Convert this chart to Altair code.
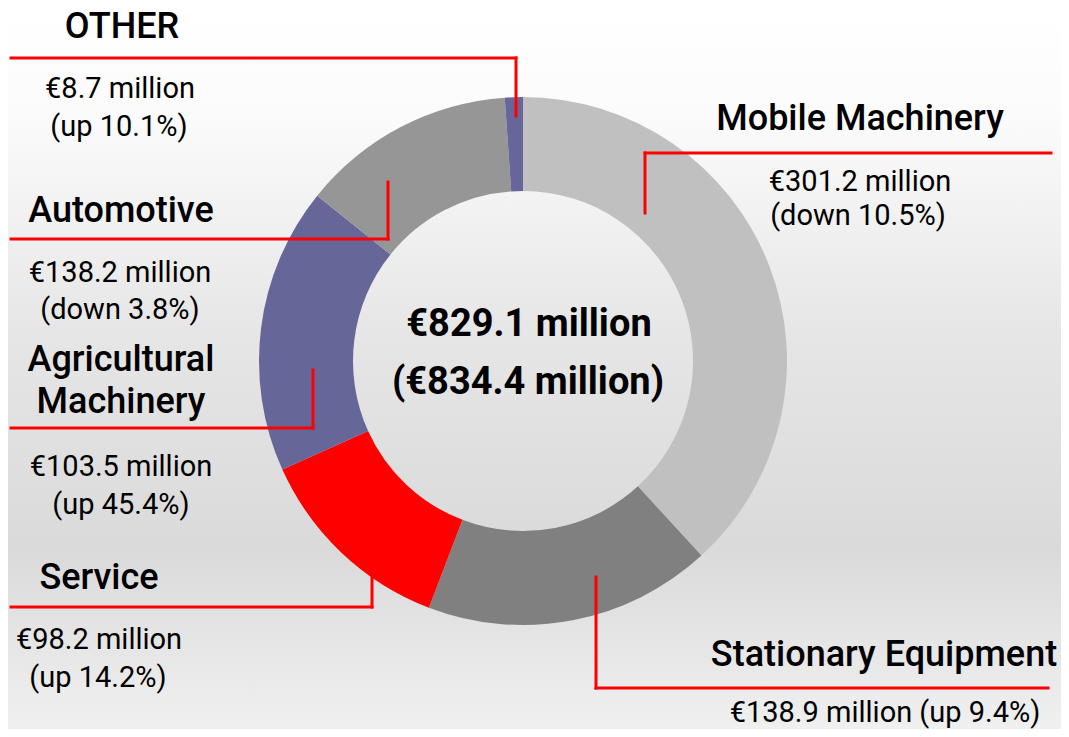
import altair as alt
import pandas as pd

# ---- data ----
segments = ["Mobile Machinery", "Stationary Equipment", "Service",
            "Automotive", "Agricultural Machinery", "OTHER"]
values = [301.2, 138.9, 98.2, 138.2, 103.5, 8.7]
seg_colors = ["#c0c0c0", "#808080", "#ff0000", "#666699", "#969696", "#66669a"]

headings = ["OTHER", "Mobile Machinery", "Automotive", "Agricultural", "Machinery",
            "Service", "Stationary Equipment"]
value_lines = ["€8.7 million", "(up 10.1%)", "€301.2 million", "(down 10.5%)",
               "€138.2 million", "(down 3.8%)", "€103.5 million", "(up 45.4%)",
               "€98.2 million", "(up 14.2%)", "€138.9 million (up 9.4%)"]
center_lines = ["€829.1 million", "(€834.4 million)"]

# ---- layout (reference pixel coordinates) ----
heading_pos = [(122, 27), (860, 119), (121, 211), (121, 360), (121, 402), (99, 578), (884, 655)]
value_pos = [(120, 89), (119, 127), (860, 182), (858, 216), (120, 273), (120, 310),
             (121, 467), (121, 505), (99, 640), (98, 678), (885, 713)]
center_pos = [(529, 325), (528, 383)]
# leader lines: (x, y, x2, y2)
leaders = [
    (11, 58, 516, 58), (516, 58, 516, 116),
    (11, 239, 388, 239), (388, 182, 388, 239),
    (645, 153, 1051, 153), (645, 153, 645, 213),
    (11, 428, 313, 428), (313, 370, 313, 428),
    (11, 607, 372, 607), (372, 577, 372, 607),
    (596, 577, 596, 688), (596, 688, 1048, 688),
]
CX, CY, R_OUT, R_IN = 523, 361, 264, 170

W, H = 1053, 721
xs = alt.Scale(domain=[8, 8 + W])
ys = alt.Scale(domain=[8, 8 + H], reverse=True)
FONT = "Roboto"

def X(v):
    return alt.X(v, type="quantitative", scale=xs, axis=None) if isinstance(v, str) else alt.XDatum(v, scale=xs, axis=None)

def Y(v):
    return alt.Y(v, type="quantitative", scale=ys, axis=None) if isinstance(v, str) else alt.YDatum(v, scale=ys, axis=None)

gradient = alt.LinearGradient(
    gradient="linear", x1=0, y1=0, x2=0, y2=1,
    stops=[alt.GradientStop(color="#ffffff", offset=0),
           alt.GradientStop(color="#fbfbfb", offset=0.15),
           alt.GradientStop(color="#e6e6e6", offset=0.45),
           alt.GradientStop(color="#dadada", offset=0.75),
           alt.GradientStop(color="#f0f0f0", offset=1)])

bg = alt.Chart(alt.Data(values=[{}])).mark_rect(color=gradient).encode(
    x=X(8), x2=alt.X2Datum(8 + W), y=Y(8), y2=alt.Y2Datum(8 + H))

seg_df = pd.DataFrame({"segment": segments, "value": values, "idx": range(len(segments))})
donut = alt.Chart(seg_df).mark_arc(innerRadius=R_IN, outerRadius=R_OUT).encode(
    theta=alt.Theta("value:Q", stack=True),
    order=alt.Order("idx:Q"),
    color=alt.Color("segment:N", scale=alt.Scale(domain=segments, range=seg_colors), legend=None),
    x=X(CX), y=Y(CY))

lines_df = pd.DataFrame(leaders, columns=["x", "y", "x2", "y2"])
lines = alt.Chart(lines_df).mark_rule(color="#ff0000", strokeWidth=3, strokeCap="square").encode(
    x=X("x"), y=Y("y"), x2="x2:Q", y2="y2:Q")

def text_layer(texts, pos, size, weight):
    df = pd.DataFrame({"t": texts, "x": [p[0] for p in pos], "y": [p[1] for p in pos]})
    return alt.Chart(df).mark_text(font=FONT, fontSize=size, fontWeight=weight, color="#000000",
                                   align="center", baseline="middle").encode(
        x=X("x"), y=Y("y"), text="t:N")

chart = alt.layer(
    bg, donut, lines,
    text_layer(headings, heading_pos, 36, 500),
    text_layer(value_lines, value_pos, 29, 400),
    text_layer(center_lines, center_pos, 38, "bold"),
).properties(width=W, height=H, padding=0, autosize=alt.AutoSizeParams(type="none")
).configure_view(stroke=None).configure(background="#ffffff")

chart.save("out.html", embed_options={"renderer": "svg", "actions": False})
